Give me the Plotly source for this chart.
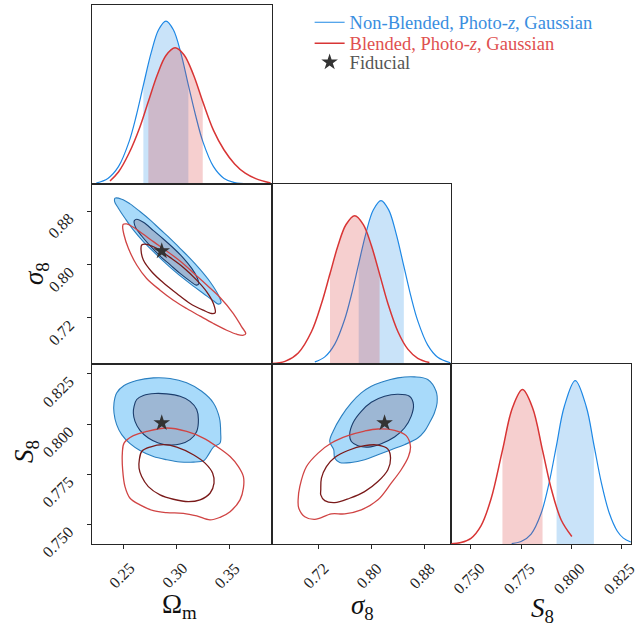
import numpy as np
import plotly.graph_objects as go

# ---------------- data ----------------
param_labels = ["Ω<sub>m</sub>", "<i>σ</i><sub>8</sub>", "<i>S</i><sub>8</sub>"]
series_names = ["Non-Blended, Photo-<i>z</i>, Gaussian", "Blended, Photo-<i>z</i>, Gaussian"]
fiducial_label = "Fiducial"
fiducial = [0.286, 0.820, 0.8005]          # Omega_m, sigma_8, S_8

axis_ranges = [[0.2195, 0.3899], [0.6497, 0.9205], [0.7402, 0.8298]]
tick_vals = [[0.25, 0.30, 0.35], [0.72, 0.80, 0.88], [0.750, 0.775, 0.800, 0.825]]
tick_text = [["0.25", "0.30", "0.35"], ["0.72", "0.80", "0.88"], ["0.750", "0.775", "0.800", "0.825"]]

# 1D marginals (relative density)
om_x_blue = [0.224, 0.235, 0.245, 0.255, 0.262, 0.2686, 0.276, 0.283, 0.290, 0.297, 0.304, 0.3112, 0.318, 0.325, 0.335, 0.345, 0.355, 0.368]
om_h_blue = [0.008, 0.036, 0.108, 0.260, 0.423, 0.607, 0.806, 0.947, 1.000, 0.947, 0.806, 0.607, 0.423, 0.260, 0.108, 0.036, 0.010, 0.002]
om_x_red = [0.237, 0.245, 0.255, 0.265, 0.2733, 0.282, 0.290, 0.2986, 0.307, 0.316, 0.3248, 0.335, 0.345, 0.355, 0.365, 0.375, 0.389]
om_h_red = [0.020, 0.075, 0.190, 0.345, 0.507, 0.674, 0.789, 0.836, 0.794, 0.671, 0.507, 0.330, 0.210, 0.125, 0.068, 0.035, 0.008]

sig_x_blue = [0.715, 0.730, 0.745, 0.760, 0.770, 0.781, 0.792, 0.803, 0.8146, 0.826, 0.837, 0.849, 0.860, 0.870, 0.885, 0.900, 0.919]
sig_h_blue = [0.014, 0.045, 0.123, 0.275, 0.423, 0.614, 0.802, 0.943, 1.000, 0.945, 0.805, 0.600, 0.410, 0.265, 0.117, 0.043, 0.009]
sig_x_red = [0.650, 0.670, 0.690, 0.710, 0.725, 0.7378, 0.750, 0.762, 0.775, 0.788, 0.800, 0.8125, 0.825, 0.840, 0.855, 0.870, 0.8875]
sig_h_red = [0.004, 0.017, 0.069, 0.200, 0.371, 0.553, 0.727, 0.854, 0.908, 0.854, 0.727, 0.551, 0.371, 0.200, 0.092, 0.036, 0.010]

s8_x_blue = [0.7703, 0.775, 0.780, 0.785, 0.789, 0.7927, 0.7965, 0.802, 0.8075, 0.8113, 0.815, 0.819, 0.823, 0.826, 0.8297]
s8_h_blue = [0.003, 0.015, 0.061, 0.188, 0.376, 0.607, 0.840, 1.000, 0.840, 0.607, 0.376, 0.188, 0.078, 0.036, 0.012]
s8_x_red = [0.740, 0.745, 0.750, 0.755, 0.760, 0.7657, 0.7707, 0.7757, 0.7807, 0.7857, 0.790, 0.795, 0.8003]
s8_h_red = [0.002, 0.009, 0.035, 0.111, 0.275, 0.573, 0.834, 0.945, 0.834, 0.573, 0.340, 0.147, 0.046]

# 68% credible intervals (shaded)
om_band_blue = [0.2686, 0.3112]
om_band_red = [0.2733, 0.3248]
sig_band_blue = [0.781, 0.849]
sig_band_red = [0.7378, 0.8125]
s8_band_blue = [0.7927, 0.8113]
s8_band_red = [0.7657, 0.7857]

# 2D contours: Omega_m vs sigma_8
oms_blue95_x = [0.2418, 0.2481, 0.2560, 0.2654, 0.2749, 0.2844, 0.2938, 0.3033, 0.3128, 0.3223, 0.3317, 0.3396, 0.3421, 0.3396, 0.3349, 0.3254, 0.3159, 0.3065, 0.2970, 0.2875, 0.2781, 0.2686, 0.2591, 0.2512, 0.2449, 0.2414]
oms_blue95_y = [0.8996, 0.8981, 0.8910, 0.8795, 0.8669, 0.8528, 0.8392, 0.8241, 0.8090, 0.7924, 0.7738, 0.7537, 0.7421, 0.7401, 0.7451, 0.7562, 0.7672, 0.7788, 0.7914, 0.8050, 0.8191, 0.8342, 0.8518, 0.8694, 0.8845, 0.8945]
oms_blue68_x = [0.2601, 0.2623, 0.2686, 0.2781, 0.2875, 0.2970, 0.3065, 0.3144, 0.3191, 0.3210, 0.3185, 0.3128, 0.3033, 0.2938, 0.2844, 0.2749, 0.2670, 0.2616, 0.2598]
oms_blue68_y = [0.8659, 0.8679, 0.8633, 0.8508, 0.8382, 0.8246, 0.8095, 0.7939, 0.7814, 0.7703, 0.7688, 0.7748, 0.7864, 0.7995, 0.8125, 0.8281, 0.8427, 0.8543, 0.8629]
oms_red95_x = [0.2496, 0.2528, 0.2591, 0.2686, 0.2781, 0.2907, 0.3033, 0.3159, 0.3286, 0.3412, 0.3538, 0.3617, 0.3655, 0.3633, 0.3570, 0.3475, 0.3349, 0.3223, 0.3096, 0.2970, 0.2844, 0.2717, 0.2623, 0.2544, 0.2503, 0.2490]
oms_red95_y = [0.8603, 0.8608, 0.8558, 0.8452, 0.8342, 0.8201, 0.8050, 0.7874, 0.7688, 0.7502, 0.7260, 0.7059, 0.6958, 0.6933, 0.6948, 0.7008, 0.7109, 0.7220, 0.7335, 0.7461, 0.7612, 0.7788, 0.7990, 0.8241, 0.8442, 0.8568]
oms_red68_x = [0.2670, 0.2717, 0.2812, 0.2938, 0.3065, 0.3191, 0.3286, 0.3349, 0.3365, 0.3333, 0.3254, 0.3128, 0.3002, 0.2875, 0.2765, 0.2686, 0.2664]
oms_red68_y = [0.8291, 0.8302, 0.8241, 0.8105, 0.7954, 0.7763, 0.7587, 0.7411, 0.7270, 0.7260, 0.7310, 0.7411, 0.7562, 0.7723, 0.7889, 0.8065, 0.8216]

# 2D contours: Omega_m vs S_8
omS_blue95_x = [0.2408, 0.2433, 0.2503, 0.2623, 0.2781, 0.2938, 0.3096, 0.3238, 0.3349, 0.3406, 0.3418, 0.3412, 0.3349, 0.3301, 0.3260, 0.3159, 0.3033, 0.2907, 0.2781, 0.2654, 0.2560, 0.2481, 0.2433, 0.2408]
omS_blue95_y = [0.8105, 0.8155, 0.8192, 0.8217, 0.8230, 0.8227, 0.8205, 0.8163, 0.8105, 0.8030, 0.7955, 0.7905, 0.7885, 0.7846, 0.7818, 0.7810, 0.7811, 0.7822, 0.7838, 0.7868, 0.7902, 0.7947, 0.7997, 0.8055]
omS_blue68_x = [0.2598, 0.2623, 0.2686, 0.2796, 0.2907, 0.3033, 0.3128, 0.3191, 0.3207, 0.3191, 0.3128, 0.3033, 0.2938, 0.2828, 0.2733, 0.2654, 0.2607, 0.2591]
omS_blue68_y = [0.8088, 0.8122, 0.8142, 0.8152, 0.8150, 0.8138, 0.8113, 0.8072, 0.8022, 0.7963, 0.7922, 0.7900, 0.7895, 0.7905, 0.7930, 0.7968, 0.8013, 0.8055]
omS_red95_x = [0.2503, 0.2591, 0.2717, 0.2907, 0.3096, 0.3254, 0.3381, 0.3507, 0.3586, 0.3633, 0.3633, 0.3601, 0.3507, 0.3412, 0.3317, 0.3191, 0.3065, 0.2907, 0.2781, 0.2654, 0.2560, 0.2512, 0.2490, 0.2487]
omS_red95_y = [0.7905, 0.7942, 0.7963, 0.7980, 0.7963, 0.7930, 0.7888, 0.7838, 0.7788, 0.7738, 0.7680, 0.7622, 0.7563, 0.7535, 0.7522, 0.7542, 0.7555, 0.7558, 0.7568, 0.7597, 0.7630, 0.7688, 0.7772, 0.7855]
omS_red68_x = [0.2648, 0.2670, 0.2749, 0.2875, 0.3002, 0.3159, 0.3270, 0.3342, 0.3355, 0.3317, 0.3223, 0.3112, 0.2970, 0.2844, 0.2733, 0.2670, 0.2645]
omS_red68_y = [0.7822, 0.7863, 0.7885, 0.7897, 0.7885, 0.7847, 0.7805, 0.7755, 0.7705, 0.7655, 0.7622, 0.7613, 0.7625, 0.7647, 0.7688, 0.7738, 0.7780]

# 2D contours: sigma_8 vs S_8
sS_blue95_x = [0.8000, 0.8150, 0.8400, 0.8650, 0.8850, 0.8976, 0.8991, 0.8950, 0.8875, 0.8800, 0.8700, 0.8500, 0.8300, 0.8100, 0.7900, 0.7699, 0.7524, 0.7449, 0.7434, 0.7374, 0.7424, 0.7549, 0.7699, 0.7849]
sS_blue95_y = [0.8188, 0.8208, 0.8230, 0.8235, 0.8222, 0.8163, 0.8105, 0.8055, 0.8005, 0.7963, 0.7930, 0.7897, 0.7872, 0.7847, 0.7822, 0.7808, 0.7808, 0.7830, 0.7872, 0.7913, 0.7963, 0.8038, 0.8105, 0.8155]
sS_blue68_x = [0.7674, 0.7724, 0.7849, 0.8000, 0.8200, 0.8400, 0.8575, 0.8635, 0.8600, 0.8500, 0.8350, 0.8150, 0.7950, 0.7799, 0.7699]
sS_blue68_y = [0.7947, 0.8005, 0.8063, 0.8108, 0.8138, 0.8148, 0.8138, 0.8097, 0.8038, 0.7980, 0.7935, 0.7902, 0.7885, 0.7892, 0.7913]
sS_red95_x = [0.6908, 0.6898, 0.6923, 0.7024, 0.7199, 0.7399, 0.7649, 0.7899, 0.8100, 0.8350, 0.8525, 0.8590, 0.8560, 0.8450, 0.8300, 0.8100, 0.7849, 0.7599, 0.7399, 0.7149, 0.6998]
sS_red95_y = [0.7580, 0.7622, 0.7688, 0.7788, 0.7855, 0.7905, 0.7942, 0.7965, 0.7975, 0.7968, 0.7942, 0.7888, 0.7838, 0.7772, 0.7705, 0.7622, 0.7572, 0.7552, 0.7552, 0.7525, 0.7538]
sS_red68_x = [0.7239, 0.7249, 0.7324, 0.7449, 0.7649, 0.7899, 0.8100, 0.8250, 0.8290, 0.8250, 0.8100, 0.7899, 0.7674, 0.7449, 0.7299, 0.7239]
sS_red68_y = [0.7672, 0.7730, 0.7788, 0.7833, 0.7868, 0.7892, 0.7895, 0.7875, 0.7830, 0.7772, 0.7713, 0.7663, 0.7630, 0.7608, 0.7618, 0.7647]

# ---------------- styling ----------------
W, H = 638, 628
SERIF = "Liberation Serif"
FRAME = "#262626"
BLUE = "#1E88E5"
RED = "#D83535"
BLUE_BAND = "rgba(30,136,229,0.24)"
RED_BAND = "rgba(216,53,53,0.24)"
BLUE95_FILL = "#a8dafa"
BLUE68_FILL = "#9db7d4"
BLUE95_LINE = "#2a7fc0"
BLUE68_LINE = "#1b3d6c"
RED95_LINE = "#d04444"
RED68_LINE = "#7a1a1a"
STAR = "#333333"

colx = [(91.5, 271.5), (271.5, 451.3), (451.3, 631.0)]
rowy = [(4.7, 184.3), (184.3, 364.2), (364.2, 544.0)]


def dom_x(c):
    return [colx[c][0] / W, colx[c][1] / W]


def dom_y(r):
    return [1 - rowy[r][1] / H, 1 - rowy[r][0] / H]


panels = {1: (0, 0), 2: (1, 0), 3: (1, 1), 4: (2, 0), 5: (2, 1), 6: (2, 2)}


def ax(k):
    return ("x" if k == 1 else f"x{k}"), ("y" if k == 1 else f"y{k}")


fig = go.Figure()


def closed(a):
    return list(a) + [a[0]]


def marginal(k, xs, hs, band, color, bandcolor, width, name=None, legend=None):
    xa, ya = ax(k)
    xs = np.asarray(xs)
    hs = np.asarray(hs)
    m = (xs >= band[0] - 1e-9) & (xs <= band[1] + 1e-9)
    fig.add_trace(go.Scatter(x=xs[m], y=hs[m], mode="lines", fill="tozeroy", fillcolor=bandcolor,
                             line=dict(width=0, shape="spline", color=bandcolor), xaxis=xa, yaxis=ya,
                             showlegend=False, hoverinfo="skip"))
    kw = dict(legend=legend) if legend else {}
    fig.add_trace(go.Scatter(x=xs, y=hs, mode="lines", line=dict(color=color, width=width, shape="spline"),
                             xaxis=xa, yaxis=ya, showlegend=name is not None,
                             name=name if name else "", hoverinfo="skip", **kw))


def filled(k, xs, ys, fillc, linec):
    xa, ya = ax(k)
    fig.add_trace(go.Scatter(x=closed(xs), y=closed(ys), mode="lines", fill="toself", fillcolor=fillc,
                             line=dict(color=linec, width=1.1, shape="spline", smoothing=1.0),
                             xaxis=xa, yaxis=ya, showlegend=False, hoverinfo="skip"))


def outline(k, xs, ys, linec, width):
    xa, ya = ax(k)
    fig.add_trace(go.Scatter(x=closed(xs), y=closed(ys), mode="lines",
                             line=dict(color=linec, width=width, shape="spline", smoothing=1.0),
                             xaxis=xa, yaxis=ya, showlegend=False, hoverinfo="skip"))


leg_blue = f"<span style='color:#3a8ee0'>{series_names[0]}</span>"
leg_red = f"<span style='color:#e05050'>{series_names[1]}</span>"
leg_fid = f"<span style='color:#555555'>{fiducial_label}</span>"

# marginals
marginal(1, om_x_blue, om_h_blue, om_band_blue, BLUE, BLUE_BAND, 1.2, leg_blue, "legend")
marginal(1, om_x_red, om_h_red, om_band_red, RED, RED_BAND, 1.5, leg_red, "legend2")
marginal(3, sig_x_blue, sig_h_blue, sig_band_blue, BLUE, BLUE_BAND, 1.2)
marginal(3, sig_x_red, sig_h_red, sig_band_red, RED, RED_BAND, 1.5)
marginal(6, s8_x_blue, s8_h_blue, s8_band_blue, BLUE, BLUE_BAND, 1.2)
marginal(6, s8_x_red, s8_h_red, s8_band_red, RED, RED_BAND, 1.5)

# 2D panels
for k, (bx95, by95, bx68, by68, rx95, ry95, rx68, ry68, fx, fy) in {
    2: (oms_blue95_x, oms_blue95_y, oms_blue68_x, oms_blue68_y, oms_red95_x, oms_red95_y, oms_red68_x, oms_red68_y, fiducial[0], fiducial[1]),
    4: (omS_blue95_x, omS_blue95_y, omS_blue68_x, omS_blue68_y, omS_red95_x, omS_red95_y, omS_red68_x, omS_red68_y, fiducial[0], fiducial[2]),
    5: (sS_blue95_x, sS_blue95_y, sS_blue68_x, sS_blue68_y, sS_red95_x, sS_red95_y, sS_red68_x, sS_red68_y, fiducial[1], fiducial[2]),
}.items():
    filled(k, bx95, by95, BLUE95_FILL, BLUE95_LINE)
    filled(k, bx68, by68, BLUE68_FILL, BLUE68_LINE)
    outline(k, rx95, ry95, RED95_LINE, 1.3)
    outline(k, rx68, ry68, RED68_LINE, 1.3)
    xa, ya = ax(k)
    fig.add_trace(go.Scatter(x=[fx], y=[fy], mode="markers",
                             marker=dict(symbol="star", size=12.5, color=STAR, line=dict(width=0)),
                             xaxis=xa, yaxis=ya, showlegend=(k == 2), name=leg_fid,
                             legend="legend3", hoverinfo="skip"))

layout = {}
max_h = [max(max(om_h_blue), max(om_h_red)), max(max(sig_h_blue), max(sig_h_red)), max(max(s8_h_blue), max(s8_h_red))]
for k, (r, c) in panels.items():
    xa = dict(domain=dom_x(c), anchor=("y" if k == 1 else f"y{k}"), range=axis_ranges[c],
              showline=True, mirror=True, linecolor=FRAME, linewidth=1, showgrid=False, zeroline=False,
              fixedrange=True, automargin=False, showticklabels=False)
    if r == 2:
        xa.update(tickmode="array", tickvals=tick_vals[c], ticks="outside",
                  ticklen=4, tickcolor=FRAME, tickwidth=1)
    else:
        xa.update(ticks="")
    yr = [0, 1.1 * max_h[c]] if r == c else axis_ranges[r]
    ya = dict(domain=dom_y(r), anchor=("x" if k == 1 else f"x{k}"), range=yr,
              showline=True, mirror=True, linecolor=FRAME, linewidth=1, showgrid=False, zeroline=False,
              fixedrange=True, automargin=False, showticklabels=False)
    if c == 0 and r > 0:
        ya.update(tickmode="array", tickvals=tick_vals[r], ticks="outside",
                  ticklen=4, tickcolor=FRAME, tickwidth=1)
    else:
        ya.update(ticks="")
    layout["xaxis" if k == 1 else f"xaxis{k}"] = xa
    layout["yaxis" if k == 1 else f"yaxis{k}"] = ya

# rotated tick labels (centred like matplotlib's rotated labels)
tickfont = dict(family=SERIF, size=16, color="#222222")
annotations = []
for c, k in [(0, 4), (1, 5), (2, 6)]:
    for v, t in zip(tick_vals[c], tick_text[c]):
        annotations.append(dict(text=t, x=v, xref=f"x{k}", y=1 - 557 / H, yref="paper",
                                xanchor="center", yanchor="top", xshift=-2, textangle=-45,
                                showarrow=False, font=tickfont))
for r, k in [(1, 2), (2, 4)]:
    for v, t in zip(tick_vals[r], tick_text[r]):
        annotations.append(dict(text=t, x=80 / W, xref="paper", y=v, yref=f"y{k}",
                                xanchor="right", yanchor="top", yshift=4, textangle=-45,
                                showarrow=False, font=tickfont))

title_font = dict(family=SERIF, size=27, color="#111111")
tcommon = dict(xref="paper", yref="paper", showarrow=False, font=title_font, xanchor="center", yanchor="middle")
annotations += [
    dict(text=param_labels[0], x=180 / W, y=1 - 606 / H, **tcommon),
    dict(text=param_labels[1], x=362 / W, y=1 - 607 / H, **tcommon),
    dict(text=param_labels[2], x=542 / W, y=1 - 610 / H, **tcommon),
    dict(text=param_labels[1], x=36 / W, y=1 - 274 / H, textangle=-90, **tcommon),
    dict(text=param_labels[2], x=26 / W, y=1 - 452 / H, textangle=-90, **tcommon),
]

leg_common = dict(x=0.4853, xanchor="left", yanchor="top", bgcolor="rgba(0,0,0,0)",
                  font=dict(family=SERIF, size=18.5), itemwidth=30)
fig.update_layout(
    width=W, height=H, margin=dict(l=0, r=0, t=0, b=0),
    paper_bgcolor="white", plot_bgcolor="white",
    showlegend=True,
    legend=dict(y=0.9941, **leg_common),
    legend2=dict(y=0.9607, **leg_common),
    legend3=dict(y=0.9304, **leg_common),
    annotations=annotations,
    **layout,
)

fig.write_html("out.html")
